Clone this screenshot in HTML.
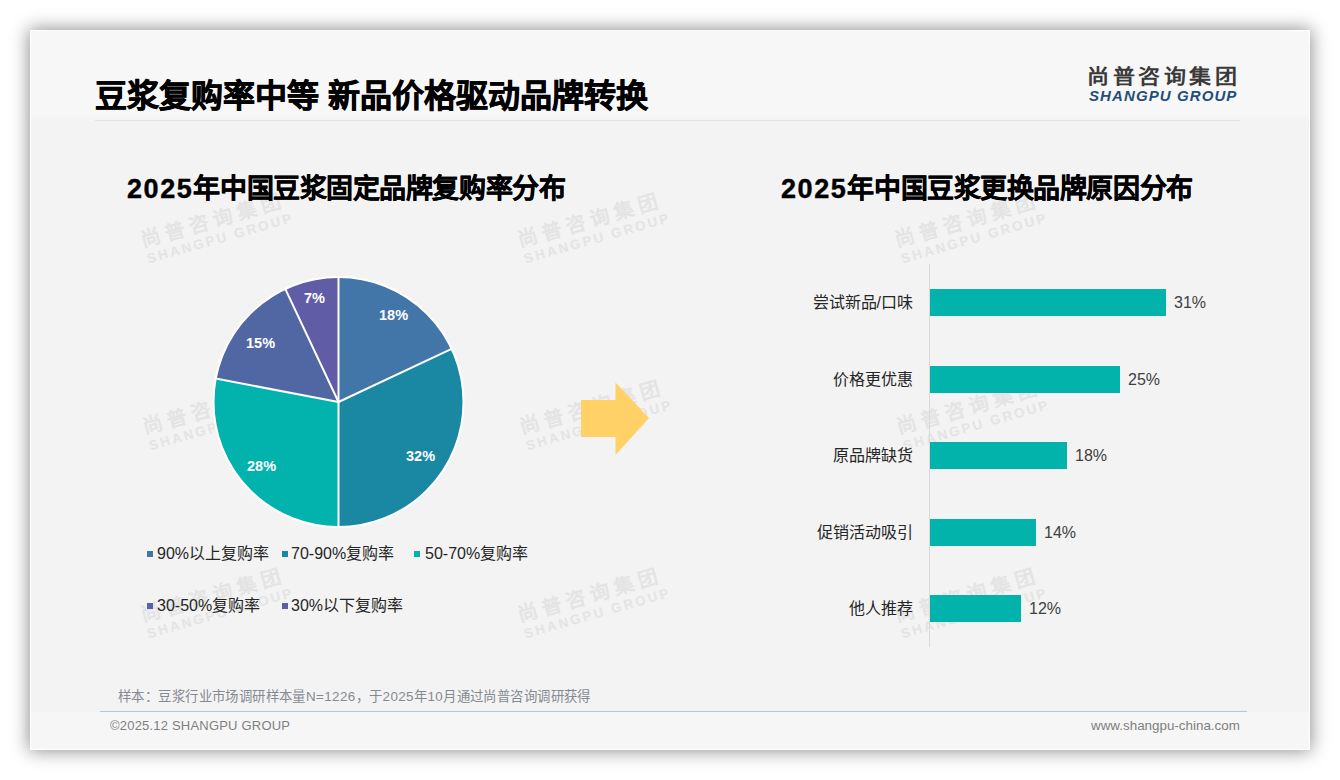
<!DOCTYPE html>
<html lang="zh-CN"><head><meta charset="utf-8">
<style>
html,body{margin:0;padding:0;background:#fff;width:1340px;height:780px;overflow:hidden;font-family:"Liberation Sans",sans-serif;}
.slide{position:absolute;left:30px;top:30px;width:1280px;height:720px;background:#f3f3f3;box-shadow:0 0 17px 1px rgba(0,0,0,0.45);overflow:hidden;}
.abs{position:absolute;white-space:nowrap;}
.hdr{position:absolute;left:0;top:0;width:1280px;height:92px;background:linear-gradient(#f7f7f7 0,#f7f7f7 85px,#f3f3f3 91px);}
.ftr{position:absolute;left:0;top:682px;width:1280px;height:38px;background:#f6f6f6;}
.title{left:65px;top:46px;font-size:32px;font-weight:bold;color:#000;line-height:40px;-webkit-text-stroke:0.7px #000;}
.sub{font-size:27px;font-weight:bold;color:#000;line-height:34px;-webkit-text-stroke:0.4px #000;}
.leg{font-size:16px;color:#262626;line-height:20px;}
.sq{position:absolute;width:6px;height:6px;}
.bl{font-size:16px;color:#262626;line-height:20px;text-align:right;}
.bv{font-size:16px;color:#404040;line-height:20px;}
.bar{position:absolute;background:#02B3AB;height:27px;left:900px;}
.pl{font-size:14.5px;font-weight:bold;color:#fff;line-height:16px;}
.wm{position:absolute;width:0;height:0;transform:rotate(-16deg);transform-origin:0 0;color:#e4e4e4;font-weight:bold;white-space:nowrap;}
.wcn{position:absolute;left:2px;top:-18px;font-size:20px;line-height:22px;letter-spacing:5px;}
.wen{position:absolute;left:3px;top:6px;font-size:13.5px;line-height:14px;letter-spacing:2.4px;}
</style></head><body>
<div class="slide">
  <div class="hdr"></div>
  <div class="ftr"></div>
  <!-- watermarks -->
  <div class="wm" style="left:111px;top:218px;"><div class="wcn">尚普咨询集团</div><div class="wen">SHANGPU GROUP</div></div>
  <div class="wm" style="left:488px;top:218px;"><div class="wcn">尚普咨询集团</div><div class="wen">SHANGPU GROUP</div></div>
  <div class="wm" style="left:865px;top:218px;"><div class="wcn">尚普咨询集团</div><div class="wen">SHANGPU GROUP</div></div>
  <div class="wm" style="left:113px;top:405px;"><div class="wcn">尚普咨询集团</div><div class="wen">SHANGPU GROUP</div></div>
  <div class="wm" style="left:490px;top:405px;"><div class="wcn">尚普咨询集团</div><div class="wen">SHANGPU GROUP</div></div>
  <div class="wm" style="left:867px;top:405px;"><div class="wcn">尚普咨询集团</div><div class="wen">SHANGPU GROUP</div></div>
  <div class="wm" style="left:111px;top:593px;"><div class="wcn">尚普咨询集团</div><div class="wen">SHANGPU GROUP</div></div>
  <div class="wm" style="left:488px;top:593px;"><div class="wcn">尚普咨询集团</div><div class="wen">SHANGPU GROUP</div></div>
  <div class="wm" style="left:865px;top:593px;"><div class="wcn">尚普咨询集团</div><div class="wen">SHANGPU GROUP</div></div>
  <div class="abs title">豆浆复购率中等 新品价格驱动品牌转换</div>
  <div style="position:absolute;left:65px;top:90px;width:1145px;height:1px;background:#e2e2e2"></div>
  <!-- logo -->
  <div class="abs" style="left:1057px;top:36px;font-size:20px;font-weight:bold;color:#3a3a3a;letter-spacing:3.2px;line-height:22px;transform:scaleX(1.1);transform-origin:0 0;">尚普咨询集团</div>
  <div class="abs" style="left:1059px;top:58px;font-size:15px;font-weight:bold;font-style:italic;color:#1f4e79;letter-spacing:1.1px;line-height:16px;">SHANGPU GROUP</div>

  <div class="abs sub" style="left:97px;top:142px;letter-spacing:-0.45px;"><span style="letter-spacing:1.6px">2025</span>年中国豆浆固定品牌复购率分布</div>
  <div class="abs sub" style="left:751px;top:142px;letter-spacing:-0.45px;"><span style="letter-spacing:1.6px">2025</span>年中国豆浆更换品牌原因分布</div>

  <!-- pie -->
  <svg style="position:absolute;left:-30px;top:-30px" width="1340" height="780">
<path d="M338.5 402 L338.50 277.00 A125 125 0 0 1 451.60 348.78 Z" fill="#4275A8"/>
<path d="M338.5 402 L451.60 348.78 A125 125 0 0 1 338.50 527.00 Z" fill="#1A88A3"/>
<path d="M338.5 402 L338.50 527.00 A125 125 0 0 1 215.71 378.58 Z" fill="#02B2AD"/>
<path d="M338.5 402 L215.71 378.58 A125 125 0 0 1 285.28 288.90 Z" fill="#5167A4"/>
<path d="M338.5 402 L285.28 288.90 A125 125 0 0 1 338.50 277.00 Z" fill="#605CA6"/>
<g stroke="#fff" stroke-width="2" fill="none">
<path d="M338.5 402 L338.50 277.00"/><path d="M338.5 402 L451.60 348.78"/><path d="M338.5 402 L338.50 527.00"/><path d="M338.5 402 L215.71 378.58"/><path d="M338.5 402 L285.28 288.90"/>
<circle cx="338.5" cy="402" r="125"/>
</g>
<polygon points="581,400 615.5,400 615.5,382.5 649,418 615.5,455 615.5,437 581,437" fill="#FFD166"/>
<line x1="929.5" y1="264" x2="929.5" y2="647" stroke="#d9d9d9" stroke-width="1"/>
  </svg>
  <div class="abs pl" style="left:349px;top:277px;">18%</div>
  <div class="abs pl" style="left:376px;top:418px;">32%</div>
  <div class="abs pl" style="left:217px;top:428px;">28%</div>
  <div class="abs pl" style="left:216px;top:305px;">15%</div>
  <div class="abs pl" style="left:274px;top:260px;">7%</div>

  <!-- legend -->
  <div class="sq" style="left:117px;top:521px;background:#4275A8"></div>
  <div class="abs leg" style="left:127px;top:514px;">90%以上复购率</div>
  <div class="sq" style="left:252px;top:521px;background:#1A88A3"></div>
  <div class="abs leg" style="left:261px;top:514px;">70-90%复购率</div>
  <div class="sq" style="left:384px;top:521px;background:#02B2AD"></div>
  <div class="abs leg" style="left:395px;top:514px;">50-70%复购率</div>
  <div class="sq" style="left:117px;top:573px;background:#5167A4"></div>
  <div class="abs leg" style="left:127px;top:566px;">30-50%复购率</div>
  <div class="sq" style="left:252px;top:573px;background:#605CA6"></div>
  <div class="abs leg" style="left:261px;top:566px;">30%以下复购率</div>

  <!-- bars -->
  <div class="bar" style="top:259px;width:236px;"></div>
  <div class="bar" style="top:336px;width:190px;"></div>
  <div class="bar" style="top:412px;width:137px;"></div>
  <div class="bar" style="top:489px;width:106px;"></div>
  <div class="bar" style="top:565px;width:91px;"></div>
  <div class="abs bl" style="right:397px;top:263px;">尝试新品/口味</div>
  <div class="abs bl" style="right:397px;top:340px;">价格更优惠</div>
  <div class="abs bl" style="right:397px;top:416px;">原品牌缺货</div>
  <div class="abs bl" style="right:397px;top:493px;">促销活动吸引</div>
  <div class="abs bl" style="right:397px;top:569px;">他人推荐</div>
  <div class="abs bv" style="left:1144px;top:263px;">31%</div>
  <div class="abs bv" style="left:1098px;top:340px;">25%</div>
  <div class="abs bv" style="left:1045px;top:416px;">18%</div>
  <div class="abs bv" style="left:1014px;top:493px;">14%</div>
  <div class="abs bv" style="left:999px;top:569px;">12%</div>

  <!-- footer -->
  <div class="abs" style="left:88px;top:659px;font-size:13.4px;letter-spacing:0.42px;color:#858a92;line-height:16px;">样本：豆浆行业市场调研样本量N=1226，于2025年10月通过尚普咨询调研获得</div>
  <div style="position:absolute;left:70px;top:681px;width:1147px;height:1px;background:#b4c7d9"></div>
  <div class="abs" style="left:80px;top:688px;font-size:13px;letter-spacing:0.2px;color:#7f7f7f;line-height:16px;">©2025.12 SHANGPU GROUP</div>
  <div class="abs" style="left:1061px;top:688px;font-size:13.4px;color:#7f7f7f;line-height:16px;">www.shangpu-china.com</div>
  <div style="position:absolute;left:0;top:0;width:1278px;height:718px;border:1px solid rgba(255,255,255,0.9);"></div>
</div>
</body></html>
